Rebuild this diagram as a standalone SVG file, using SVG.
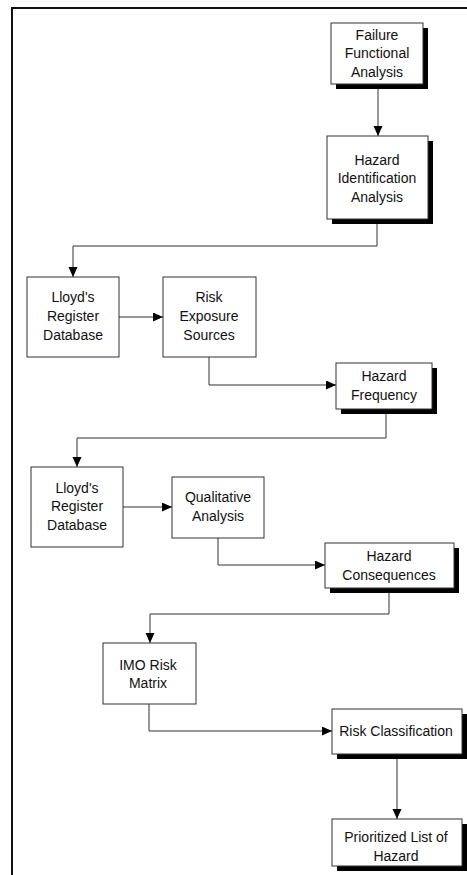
<svg xmlns="http://www.w3.org/2000/svg" width="467" height="875" viewBox="0 0 467 875">
<style>
.box{fill:#fff;stroke:#333;stroke-width:1}
.sh{fill:#000}
.t{font-family:"Liberation Sans",Arial,sans-serif;font-size:14px;fill:#111;text-anchor:middle}
.c{fill:none;stroke:#333;stroke-width:1}
.frame{fill:none;stroke:#111;stroke-width:2}
</style>
<defs>
<marker id="ah" markerUnits="userSpaceOnUse" markerWidth="11" markerHeight="10" refX="10" refY="4.5" orient="auto">
<path d="M0,0 L10,4.5 L0,9 z" fill="#000"/>
</marker>
</defs>
<path class="frame" d="M467,8 H12 V875"/>
<g id="connectors">
<path class="c" d="M378,84 V136" marker-end="url(#ah)"/>
<path class="c" d="M377,219 V246 H73 V277" marker-end="url(#ah)"/>
<path class="c" d="M119,317 H163" marker-end="url(#ah)"/>
<path class="c" d="M209,357 V385 H336" marker-end="url(#ah)"/>
<path class="c" d="M386,409 V438 H77 V467" marker-end="url(#ah)"/>
<path class="c" d="M123,507 H172" marker-end="url(#ah)"/>
<path class="c" d="M218,538 V565 H325" marker-end="url(#ah)"/>
<path class="c" d="M389,588 V614 H150 V643" marker-end="url(#ah)"/>
<path class="c" d="M149,704 V731 H332" marker-end="url(#ah)"/>
<path class="c" d="M397,754 V819" marker-end="url(#ah)"/>
</g>
<g id="n1">
<rect class="sh" x="336" y="28" width="92" height="61"/>
<rect class="box" x="331" y="23" width="92" height="61"/>
<text class="t" x="377" y="40">Failure</text>
<text class="t" x="377" y="58">Functional</text>
<text class="t" x="377" y="77">Analysis</text>
</g>
<g id="n2">
<rect class="sh" x="332" y="141" width="101" height="83"/>
<rect class="box" x="327" y="136" width="101" height="83"/>
<text class="t" x="377" y="165">Hazard</text>
<text class="t" x="377" y="183">Identification</text>
<text class="t" x="377" y="202">Analysis</text>
</g>
<g id="n3">
<rect class="box" x="27" y="277" width="92" height="80"/>
<text class="t" x="73" y="302">Lloyd's</text>
<text class="t" x="73" y="321">Register</text>
<text class="t" x="73" y="340">Database</text>
</g>
<g id="n4">
<rect class="box" x="163" y="277" width="93" height="80"/>
<text class="t" x="209" y="302">Risk</text>
<text class="t" x="209" y="321">Exposure</text>
<text class="t" x="209" y="340">Sources</text>
</g>
<g id="n5">
<rect class="sh" x="341" y="368" width="96" height="46"/>
<rect class="box" x="336" y="363" width="96" height="46"/>
<text class="t" x="384" y="381">Hazard</text>
<text class="t" x="384" y="400">Frequency</text>
</g>
<g id="n6">
<rect class="box" x="31" y="467" width="92" height="80"/>
<text class="t" x="77" y="493">Lloyd's</text>
<text class="t" x="77" y="511">Register</text>
<text class="t" x="77" y="530">Database</text>
</g>
<g id="n7">
<rect class="box" x="172" y="477" width="92" height="61"/>
<text class="t" x="218" y="502">Qualitative</text>
<text class="t" x="218" y="521">Analysis</text>
</g>
<g id="n8">
<rect class="sh" x="330" y="548" width="129" height="45"/>
<rect class="box" x="325" y="543" width="129" height="45"/>
<text class="t" x="389" y="561">Hazard</text>
<text class="t" x="389" y="580">Consequences</text>
</g>
<g id="n9">
<rect class="box" x="103" y="643" width="93" height="61"/>
<text class="t" x="148" y="670">IMO Risk</text>
<text class="t" x="148" y="688">Matrix</text>
</g>
<g id="n10">
<rect class="sh" x="337" y="714" width="130" height="45"/>
<rect class="box" x="332" y="709" width="130" height="45"/>
<text class="t" x="396" y="736">Risk Classification</text>
</g>
<g id="n11">
<rect class="sh" x="337" y="824" width="130" height="47"/>
<rect class="box" x="332" y="819" width="130" height="47"/>
<text class="t" x="396" y="842">Prioritized List of</text>
<text class="t" x="396" y="861">Hazard</text>
</g>
</svg>
